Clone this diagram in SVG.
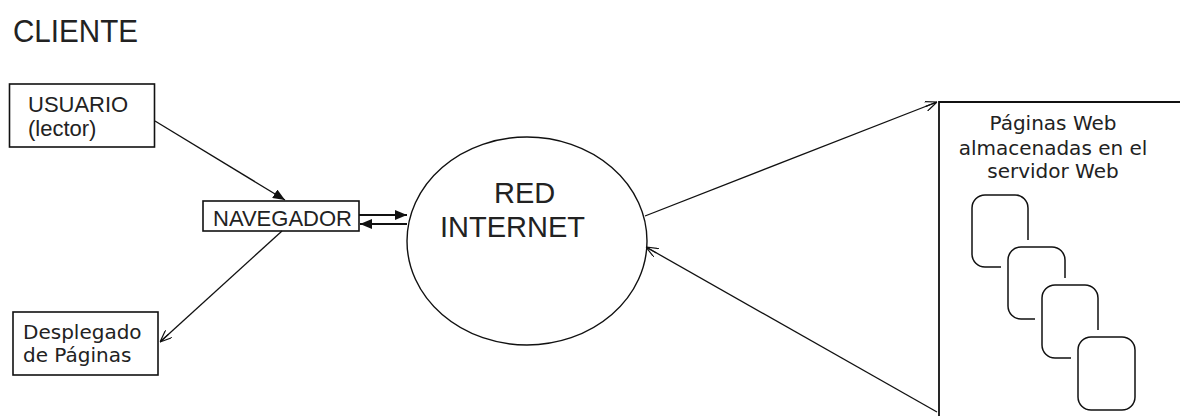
<svg xmlns="http://www.w3.org/2000/svg" width="1180" height="416" viewBox="0 0 1180 416">
<style>
.box{fill:#fff;stroke:#111;stroke-width:1.6}
.ln{fill:none;stroke:#111;stroke-width:1.3}
.t1{font-family:"Liberation Sans",Arial,sans-serif;fill:#222}
.t2{font-family:"DejaVu Sans",Verdana,sans-serif;fill:#222}
.pg{fill:#fff;stroke:#111;stroke-width:1.5}
.halo{fill:#fff;stroke:none}
</style>
<defs>
<marker id="fill" viewBox="0 0 12 10" refX="12" refY="5" markerWidth="12" markerHeight="10" markerUnits="userSpaceOnUse" orient="auto">
<path d="M0,0 L12,5 L0,10 Z" fill="#111"/>
</marker>
<marker id="open" viewBox="0 0 12 10" refX="12" refY="5" markerWidth="12" markerHeight="10" markerUnits="userSpaceOnUse" orient="auto">
<path d="M0,0 L12,5 L0,10 M0,5 L12,5" fill="none" stroke="#111" stroke-width="1.2"/>
</marker>
</defs>
<rect width="1180" height="416" fill="#fff"/>
<text class="t1" x="13" y="42" font-size="31" textLength="125" lengthAdjust="spacingAndGlyphs">CLIENTE</text>

<g id="usuario">
<rect class="box" x="9.5" y="84" width="145" height="63"/>
<text class="t1" x="28" y="112" font-size="22">USUARIO</text>
<text class="t1" x="28" y="136" font-size="22">(lector)</text>
</g>

<g id="navegador">
<rect class="box" x="203" y="201" width="156" height="30"/>
<text class="t1" x="213" y="226" font-size="22">NAVEGADOR</text>
</g>

<g id="desplegado">
<rect class="box" x="13" y="312" width="145" height="63"/>
<text class="t2" x="23" y="339" font-size="20">Desplegado</text>
<text class="t2" x="23" y="362" font-size="20">de Páginas</text>
</g>

<g id="red">
<ellipse class="box" cx="527" cy="241" rx="120" ry="104" style="stroke-width:1.4"/>
<text class="t1" x="494" y="203" font-size="29">RED</text>
<text class="t1" x="440" y="237" font-size="29">INTERNET</text>
</g>

<g id="servidor">
<path class="ln" d="M939,416 L939,102 L1180,102" style="stroke-width:1.8"/>
<text class="t2" x="1053" y="130" font-size="20" text-anchor="middle">Páginas Web</text>
<text class="t2" x="1053" y="155" font-size="20" text-anchor="middle">almacenadas en el</text>
<text class="t2" x="1053" y="178" font-size="20" text-anchor="middle">servidor Web</text>
<rect class="pg" x="972" y="195" width="56" height="72" rx="13"/>
<rect class="halo" x="1001" y="240" width="70" height="86" rx="18"/>
<rect class="pg" x="1008" y="247" width="57" height="72" rx="13"/>
<rect class="halo" x="1035" y="278" width="70" height="87" rx="18"/>
<rect class="pg" x="1042" y="285" width="56" height="73" rx="13"/>
<rect class="halo" x="1071" y="330" width="70" height="87" rx="18"/>
<rect class="pg" x="1078" y="337" width="57" height="73" rx="13"/>
</g>

<g id="connectors">
<line class="ln" x1="155" y1="121" x2="285" y2="200" marker-end="url(#fill)"/>
<line class="ln" x1="359" y1="215" x2="407" y2="215" marker-end="url(#fill)" style="stroke-width:1.8"/>
<line class="ln" x1="407" y1="224" x2="360" y2="224" marker-end="url(#fill)" style="stroke-width:1.8"/>
<line class="ln" x1="282" y1="231" x2="160" y2="342" marker-end="url(#open)"/>
<line class="ln" x1="645" y1="216" x2="937" y2="102" marker-end="url(#open)"/>
<line class="ln" x1="937" y1="412" x2="646" y2="247" marker-end="url(#open)"/>
</g>
</svg>
